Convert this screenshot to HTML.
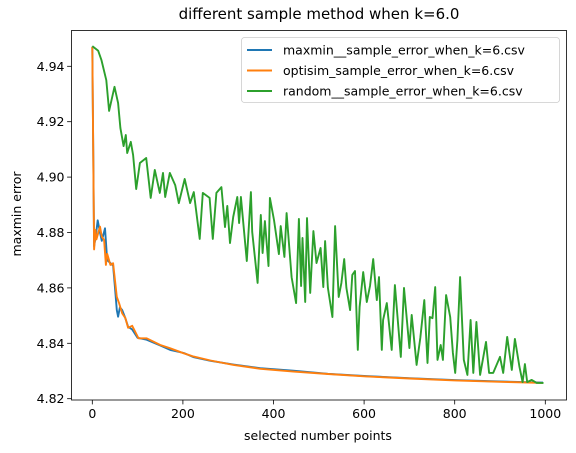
<!DOCTYPE html>
<html><head><meta charset="utf-8"><style>
body{margin:0;background:#fff}
svg{display:block;font-family:"DejaVu Sans","Liberation Sans",sans-serif}
</style></head><body>
<svg id="chart" width="576" height="453" viewBox="0 0 576 453" xmlns="http://www.w3.org/2000/svg">
<rect x="0" y="0" width="576" height="453" fill="#fff"/>
<text x="319" y="19" font-size="15" text-anchor="middle" fill="#000">different sample method when k=6.0</text>
<g id="plot"></g>
<text x="318" y="440" font-size="12.5" text-anchor="middle">selected number points</text>
<text x="21" y="214" font-size="12.5" text-anchor="middle" transform="rotate(-90 21 214)">maxmin error</text>
</svg>
<script>
const xTicks=[0,200,400,600,800,1000];
const yTicks=[4.82,4.84,4.86,4.88,4.90,4.92,4.94];
const seriesNames=["maxmin__sample_error_when_k=6.csv","optisim_sample_error_when_k=6.csv","random__sample_error_when_k=6.csv"];
const seriesColors=["#1f77b4","#ff7f0e","#2ca02c"];
const maxminX=[0,4,8,12,17,21,28,33,40,46,50,54,57,61,66,73,79,88,100,120,150,172,202,224,261,312,371,444,520,600,700,800,900,995];
const maxminY=[4.947,4.875,4.879,4.8844,4.880,4.877,4.8815,4.870,4.869,4.868,4.860,4.852,4.8496,4.853,4.852,4.849,4.846,4.845,4.842,4.8413,4.8392,4.8376,4.8365,4.8350,4.8337,4.8323,4.8310,4.8301,4.8290,4.8282,4.8274,4.8267,4.8262,4.8258];
const optisimX=[0,4,7,9,17,21,26,30,33,40,46,54,59,66,73,79,88,102,120,150,172,202,224,261,312,371,444,520,600,700,800,900,995];
const optisimY=[4.947,4.8739,4.8809,4.8775,4.8821,4.8785,4.8773,4.8683,4.8723,4.8683,4.8689,4.8568,4.8546,4.8508,4.8491,4.8456,4.8463,4.8418,4.8418,4.8394,4.8382,4.8364,4.8352,4.8338,4.8322,4.8308,4.8298,4.8289,4.8281,4.8273,4.8266,4.8261,4.8257];
const randomX=[0,13,20,31,37,49,57,62,69,74,77,85,90,97,105,119,129,138,149,156,161,171,183,191,204,216,224,237,244,259,266,274,285,293,298,304,311,320,324,328,341,350,353,365,372,376,381,389,392,401,412,416,424,429,440,450,456,461,464,470,474,481,488,495,504,510,514,520,530,536,544,550,556,561,569,574,580,586,590,598,606,613,620,628,633,639,642,650,661,668,681,688,700,705,716,724,733,740,745,751,757,762,769,774,781,790,796,801,806,812,820,828,835,841,848,856,869,876,885,900,907,916,926,933,943,950,955,960,970,981,996];
const randomY=[4.9473,4.9456,4.9423,4.9350,4.9239,4.9326,4.9267,4.9177,4.9112,4.9152,4.9087,4.9127,4.9080,4.8957,4.9051,4.9069,4.8925,4.9026,4.8943,4.9015,4.8928,4.9015,4.8971,4.8906,4.8993,4.8906,4.8946,4.8777,4.8943,4.8925,4.8777,4.8943,4.8964,4.8820,4.8896,4.8762,4.8856,4.8928,4.8834,4.8928,4.8697,4.8946,4.8802,4.8618,4.8863,4.8726,4.8841,4.8679,4.8925,4.8845,4.8722,4.8823,4.8712,4.8870,4.8639,4.8545,4.8849,4.8607,4.8780,4.8549,4.8852,4.8582,4.8805,4.8690,4.8744,4.8603,4.8769,4.8600,4.8495,4.8823,4.8567,4.8618,4.8704,4.8600,4.8520,4.8647,4.8661,4.8376,4.8531,4.8657,4.8549,4.8607,4.8704,4.8556,4.8639,4.8376,4.8484,4.8545,4.8376,4.8610,4.8351,4.8600,4.8383,4.8502,4.8322,4.8419,4.8556,4.8329,4.8495,4.8491,4.8603,4.8340,4.8394,4.8340,4.8574,4.8495,4.8365,4.8293,4.8412,4.8639,4.8340,4.8286,4.8484,4.8293,4.8477,4.8286,4.8405,4.8293,4.8293,4.8351,4.8293,4.8423,4.8304,4.8416,4.8314,4.8260,4.8325,4.8260,4.8268,4.8257,4.8257];

const L=71.5,R=566.5,T=30.5,B=398.5+1.5;
const xs=v=>92.3+v*0.4530;
const ys=v=>398.7-(v-4.82)*2770;
const NS="http://www.w3.org/2000/svg";
const plot=document.getElementById('plot');
function mk(tag,attrs){const e=document.createElementNS(NS,tag);for(const k in attrs)e.setAttribute(k,attrs[k]);return e;}

const defs=mk('clipPath',{id:'clip'});defs.appendChild(mk('rect',{x:L,y:T,width:R-L,height:B-T}));plot.appendChild(defs);

xTicks.forEach(t=>{
  const g=mk('g',{});
  
  
  g.appendChild(mk('line',{x1:xs(t),x2:xs(t),y1:B,y2:B+4.4,stroke:'#000','stroke-width':0.8}));
  const tx=mk('text',{x:xs(t),y:B+18,'font-size':12.5,'text-anchor':'middle'});tx.textContent=t;g.appendChild(tx);
  plot.appendChild(g);
});
yTicks.forEach(t=>{
  const g=mk('g',{});
  
  
  g.appendChild(mk('line',{x1:L-4.4,x2:L,y1:ys(t),y2:ys(t),stroke:'#000','stroke-width':0.8}));
  const tx=mk('text',{x:L-7,y:ys(t)+4.5,'font-size':12.5,'text-anchor':'end'});tx.textContent=t.toFixed(2);g.appendChild(tx);
  plot.appendChild(g);
});

const data=[[maxminX,maxminY],[optisimX,optisimY],[randomX,randomY]];
const order=[2,0,1];
[0,1,2].forEach(i=>{
  const [X,Y]=data[i];
  const d=X.map((x,j)=>(j?'L':'M')+xs(x).toFixed(1)+','+ys(Y[j]).toFixed(1)).join(' ');
  const p=mk('path',{d:d,fill:'none',stroke:seriesColors[i],'stroke-width':1.9,'stroke-linejoin':'round','clip-path':'url(#clip)'});
  
  
  plot.appendChild(p);
});

const frame=mk('rect',{x:L,y:T,width:R-L,height:B-T,fill:'none',stroke:'#000','stroke-width':0.8});


plot.appendChild(frame);

const leg=mk('g',{});


leg.appendChild(mk('rect',{x:241.5,y:37.5,width:318,height:65,rx:3,fill:'#fff','fill-opacity':0.8,stroke:'#ccc','stroke-width':0.8}));
seriesNames.forEach((n,i)=>{
  const y=50+i*20.5;
  const e=mk('g',{});
  
  
  e.appendChild(mk('line',{x1:247,x2:272,y1:y,y2:y,stroke:seriesColors[i],'stroke-width':1.9}));
  const t=mk('text',{x:283,y:y+4.5,'font-size':12.5});t.textContent=n;e.appendChild(t);
  leg.appendChild(e);
});
plot.appendChild(leg);
</script>
</body></html>
